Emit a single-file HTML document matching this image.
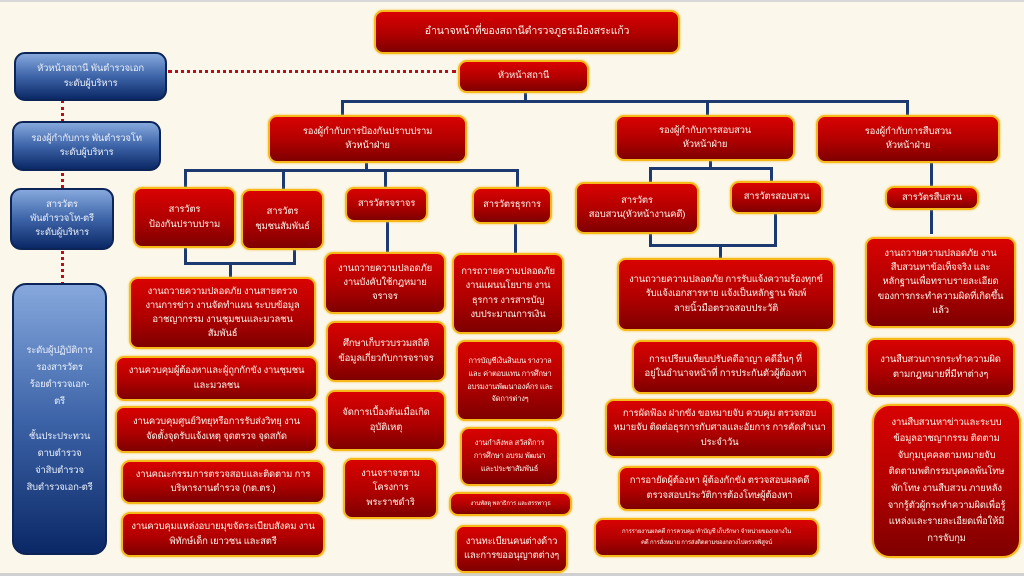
<!DOCTYPE html>
<html><head><meta charset="utf-8"><style>
body{margin:0;width:1024px;height:576px;overflow:hidden;background:#fbf7ea;font-family:"Liberation Sans","Noto Sans CJK SC",sans-serif;position:relative}
.r,.b{position:absolute;box-sizing:border-box;display:flex;align-items:center;justify-content:center;text-align:center;color:#fff3ea;font-size:9.5px;line-height:1.5;border-radius:9px;white-space:nowrap;letter-spacing:-0.2px}
.r{background:linear-gradient(#d90202,#b00000 55%,#7e0000);border:2px solid #f7b91a;box-shadow:0 0 2px #f5c54a}
.b{background:linear-gradient(#86a8dd,#3d64a8 50%,#0b2866);border:2px solid #0d2457;color:#e8eefa;border-radius:11px}
.l{position:absolute;background:#1c3a70}
.d{position:absolute;border-color:#b3101a;border-style:dotted}
.s{font-size:7.5px;line-height:1.7}
.t{font-size:6px;line-height:1.7}
</style></head><body>
<div style="position:absolute;left:0;top:0;width:1024px;height:2px;background:#d8d8d8"></div>
<div style="position:absolute;left:0;bottom:0;width:1024px;height:3px;background:#d0d0d0"></div>
<div class="d" style="left:168px;top:70px;width:288px;border-width:3px 0 0 0"></div>
<div class="d" style="left:61px;top:100px;height:185px;border-width:0 0 0 3px"></div>
<div class="l" style="left:524px;top:92px;width:3px;height:10px"></div>
<div class="l" style="left:341px;top:100px;width:567px;height:3px"></div>
<div class="l" style="left:341px;top:100px;width:3px;height:16px"></div>
<div class="l" style="left:706px;top:100px;width:3px;height:16px"></div>
<div class="l" style="left:906px;top:100px;width:3px;height:16px"></div>
<div class="l" style="left:365px;top:162px;width:3px;height:8px"></div>
<div class="l" style="left:184px;top:169px;width:335px;height:3px"></div>
<div class="l" style="left:184px;top:169px;width:3px;height:18px"></div>
<div class="l" style="left:282px;top:169px;width:3px;height:20px"></div>
<div class="l" style="left:384px;top:169px;width:3px;height:18px"></div>
<div class="l" style="left:516px;top:169px;width:3px;height:18px"></div>
<div class="l" style="left:184px;top:247px;width:3px;height:17px"></div>
<div class="l" style="left:184px;top:262px;width:112px;height:3px"></div>
<div class="l" style="left:293px;top:249px;width:3px;height:15px"></div>
<div class="l" style="left:229px;top:262px;width:3px;height:16px"></div>
<div class="l" style="left:386px;top:221px;width:3px;height:32px"></div>
<div class="l" style="left:514px;top:223px;width:3px;height:31px"></div>
<div class="l" style="left:709px;top:160px;width:3px;height:9px"></div>
<div class="l" style="left:649px;top:167px;width:124px;height:3px"></div>
<div class="l" style="left:649px;top:167px;width:3px;height:16px"></div>
<div class="l" style="left:770px;top:167px;width:3px;height:15px"></div>
<div class="l" style="left:649px;top:232px;width:3px;height:14px"></div>
<div class="l" style="left:649px;top:244px;width:128px;height:3px"></div>
<div class="l" style="left:774px;top:213px;width:3px;height:33px"></div>
<div class="l" style="left:719px;top:244px;width:3px;height:15px"></div>
<div class="l" style="left:930px;top:162px;width:3px;height:25px"></div>
<div class="l" style="left:930px;top:209px;width:3px;height:25px"></div>
<div class="b" style="left:14px;top:52px;width:153px;height:49px">หัวหน้าสถานี พันตำรวจเอก<br>ระดับผู้บริหาร</div>
<div class="b" style="left:12px;top:121px;width:149px;height:50px">รองผู้กำกับการ พันตำรวจโท<br>ระดับผู้บริหาร</div>
<div class="b" style="left:10px;top:188px;width:104px;height:62px">สารวัตร<br>พันตำรวจโท-ตรี<br>ระดับผู้บริหาร</div>
<div class="b" style="left:12px;top:283px;width:95px;height:272px;border-radius:14px;line-height:1.8">ระดับผู้ปฏิบัติการ<br>รองสารวัตร<br>ร้อยตำรวจเอก-<br>ตรี<br><br>ชั้นประประทวน<br>ดาบตำรวจ<br>จ่าสิบตำรวจ<br>สิบตำรวจเอก-ตรี</div>
<div class="r" style="left:374px;top:10px;width:306px;height:44px;font-size:10.5px">อำนาจหน้าที่ของสถานีตำรวจภูธรเมืองสระแก้ว</div>
<div class="r" style="left:458px;top:60px;width:131px;height:33px">หัวหน้าสถานี</div>
<div class="r" style="left:268px;top:115px;width:199px;height:48px">รองผู้กำกับการป้องกันปราบปราม<br>หัวหน้าฝ่าย</div>
<div class="r" style="left:615px;top:115px;width:180px;height:46px">รองผู้กำกับการสอบสวน<br>หัวหน้าฝ่าย</div>
<div class="r" style="left:816px;top:115px;width:184px;height:48px">รองผู้กำกับการสืบสวน<br>หัวหน้าฝ่าย</div>
<div class="r" style="left:133px;top:187px;width:103px;height:61px">สารวัตร<br>ป้องกันปราบปราม</div>
<div class="r" style="left:241px;top:189px;width:83px;height:61px">สารวัตร<br>ชุมชนสัมพันธ์</div>
<div class="r" style="left:345px;top:187px;width:83px;height:35px">สารวัตรจราจร</div>
<div class="r" style="left:472px;top:187px;width:80px;height:37px">สารวัตรธุรการ</div>
<div class="r" style="left:575px;top:182px;width:124px;height:52px">สารวัตร<br>สอบสวน(หัวหน้างานคดี)</div>
<div class="r" style="left:730px;top:181px;width:93px;height:33px">สารวัตรสอบสวน</div>
<div class="r" style="left:885px;top:186px;width:94px;height:24px">สารวัตรสืบสวน</div>
<div class="r" style="left:129px;top:277px;width:187px;height:72px">งานถวายความปลอดภัย งานสายตรวจ<br>งานการข่าว งานจัดทำแผน ระบบข้อมูล<br>อาชญากรรม งานชุมชนและมวลชน<br>สัมพันธ์</div>
<div class="r" style="left:115px;top:356px;width:203px;height:45px">งานควบคุมผู้ต้องหาและผู้ถูกกักขัง งานชุมชน<br>และมวลชน</div>
<div class="r" style="left:115px;top:406px;width:203px;height:47px">งานควบคุมศูนย์วิทยุหรือการรับส่งวิทยุ งาน<br>จัดตั้งจุดรับแจ้งเหตุ จุดตรวจ จุดสกัด</div>
<div class="r" style="left:121px;top:460px;width:204px;height:44px">งานคณะกรรมการตรวจสอบและติดตาม การ<br>บริหารงานตำรวจ (กต.ตร.)</div>
<div class="r" style="left:121px;top:512px;width:204px;height:45px">งานควบคุมแหล่งอบายมุขจัดระเบียบสังคม งาน<br>พิทักษ์เด็ก เยาวชน และสตรี</div>
<div class="r" style="left:324px;top:252px;width:122px;height:62px">งานถวายความปลอดภัย<br>งานบังคับใช้กฎหมาย<br>จราจร</div>
<div class="r" style="left:326px;top:321px;width:120px;height:61px">ศึกษาเก็บรวบรวมสถิติ<br>ข้อมูลเกี่ยวกับการจราจร</div>
<div class="r" style="left:326px;top:390px;width:120px;height:61px">จัดการเบื้องต้นเมื่อเกิด<br>อุบัติเหตุ</div>
<div class="r" style="left:343px;top:458px;width:95px;height:61px">งานจราจรตาม<br>โครงการ<br>พระราชดำริ</div>
<div class="r" style="left:452px;top:253px;width:112px;height:81px">การถวายความปลอดภัย<br>งานแผนนโยบาย งาน<br>ธุรการ งารสารบัญ<br>งบประมาณการเงิน</div>
<div class="r s" style="left:456px;top:340px;width:108px;height:81px">การบัญชีเงินสินบน รางวาล<br>และ ค่าตอบแทน การศึกษา<br>อบรมงานพัฒนาองค์กร และ<br>จัดการต่างๆ</div>
<div class="r s" style="left:460px;top:427px;width:99px;height:59px">งานกำลังพล สวัสดิการ<br>การศึกษา อบรม พัฒนา<br>และประชาสัมพันธ์</div>
<div class="r t" style="left:449px;top:492px;width:123px;height:24px">งานพัสดุ พลาธิการ และสรรพาวุธ</div>
<div class="r" style="left:455px;top:525px;width:113px;height:48px">งานทะเบียนคนต่างด้าว<br>และการขออนุญาตต่างๆ</div>
<div class="r" style="left:617px;top:258px;width:218px;height:73px">งานถวายความปลอดภัย การรับแจ้งความร้องทุกข์<br>รับแจ้งเอกสารหาย แจ้งเป็นหลักฐาน พิมพ์<br>ลายนิ้วมือตรวจสอบประวัติ</div>
<div class="r" style="left:632px;top:340px;width:187px;height:54px">การเปรียบเทียบปรับคดีอาญา คดีอื่นๆ ที่<br>อยู่ในอำนาจหน้าที่ การประกันตัวผู้ต้องหา</div>
<div class="r" style="left:605px;top:399px;width:229px;height:59px">การผัดฟ้อง ฝากขัง ขอหมายจับ ควบคุม ตรวจสอบ<br>หมายจับ ติดต่อธุรการกับศาลและอัยการ การคัดสำเนา<br>ประจำวัน</div>
<div class="r" style="left:618px;top:466px;width:203px;height:45px">การอายัดผู้ต้องหา ผู้ต้องกักขัง ตรวจสอบผลคดี<br>ตรวจสอบประวัติการต้องโทษผู้ต้องหา</div>
<div class="r t" style="left:594px;top:518px;width:225px;height:39px">การรายงานผลคดี การควบคุม ทำบัญชี เก็บรักษา จำหน่ายของกลางใน<br>คดี การสั่งหมาย การส่งติดตามของกลางไปตรวจพิสูจน์</div>
<div class="r" style="left:865px;top:237px;width:151px;height:91px">งานถวายความปลอดภัย งาน<br>สืบสวนหาข้อเท็จจริง และ<br>หลักฐานเพื่อทราบรายละเอียด<br>ของการกระทำความผิดที่เกิดขึ้น<br>แล้ว</div>
<div class="r" style="left:866px;top:338px;width:149px;height:59px">งานสืบสวนการกระทำความผิด<br>ตามกฎหมายที่มีหาต่างๆ</div>
<div class="r" style="left:872px;top:404px;width:149px;height:154px;border-radius:18px;line-height:1.75">งานสืบสวนหาข่าวและระบบ<br>ข้อมูลอาชญากรรม ติดตาม<br>จับกุมบุคคลตามหมายจับ<br>ติดตามพติกรรมบุคคลพ้นโทษ<br>พักโทษ งานสืบสวน ภายหลัง<br>จากรู้ตัวผู้กระทำความผิดเพื่อรู้<br>แหล่งและรายละเอียดเพื่อให้มี<br>การจับกุม</div>
</body></html>
